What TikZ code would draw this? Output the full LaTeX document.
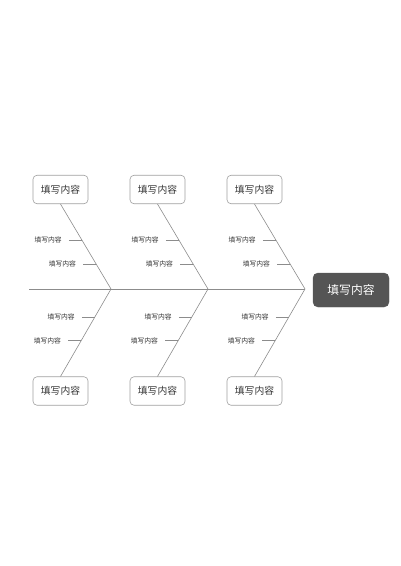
\documentclass[tikz,border=0pt]{standalone}
\usepackage{fontspec}
\setmainfont{Noto Sans CJK SC}
\usetikzlibrary{positioning,calc}
\definecolor{boneline}{HTML}{8C8C8C}
\definecolor{boxline}{HTML}{A0A0A0}
\definecolor{headfill}{HTML}{555555}
\definecolor{ink}{HTML}{333333}
\begin{document}
\begin{tikzpicture}[x=1pt, y=-1pt,
    cause/.style = {draw=boxline, line width=0.6pt, rounded corners=4pt,
      minimum width=55pt, minimum height=28.5pt, text=ink,
      font=\fontsize{9.8}{12}\selectfont},
    effect/.style = {draw=headfill, fill=headfill, rounded corners=5pt,
      minimum width=76pt, minimum height=34pt, text=white,
      font=\fontsize{11.8}{14}\selectfont},
    sub/.style = {inner xsep=7pt, inner ysep=1pt, text=ink,
      font=\fontsize{6.8}{8}\selectfont},
    bone/.style = {draw=boneline, line width=0.6pt}]
  \useasboundingbox (0,0) rectangle (400,566);
  % spine and head
  \coordinate (tail) at (29,289);
  \node[effect] (head) at (351,290) {填写内容};
  %
  \foreach \g/\dx in {1/0, 2/97, 3/194} {
    \coordinate (j\g) at (111+\dx,289);
    \node[cause] (top\g) at (60.5+\dx,189.5) {填写内容};
    \node[cause] (bot\g) at (60.5+\dx,391) {填写内容};
    \draw[bone] (top\g.south) -- (j\g);
    \draw[bone] (j\g) -- (bot\g.north);
    % small causes
    \coordinate (ta\g) at ($(j\g)!0.576!(top\g.south)$);
    \coordinate (tb\g) at ($(j\g)!0.294!(top\g.south)$);
    \coordinate (ba\g) at ($(j\g)!0.318!(bot\g.north)$);
    \coordinate (bb\g) at ($(j\g)!0.591!(bot\g.north)$);
    \node[sub, left=13pt of ta\g] (lta\g) {填写内容};
    \node[sub, left=13pt of tb\g] (ltb\g) {填写内容};
    \node[sub, left=13pt of ba\g] (lba\g) {填写内容};
    \node[sub, left=13pt of bb\g] (lbb\g) {填写内容};
    \draw[bone] (lta\g.east) -- (ta\g);
    \draw[bone] (ltb\g.east) -- (tb\g);
    \draw[bone] (lba\g.east) -- (ba\g);
    \draw[bone] (lbb\g.east) -- (bb\g);
  }
  \draw[bone] (tail) -- (j3);
\end{tikzpicture}
\end{document}
